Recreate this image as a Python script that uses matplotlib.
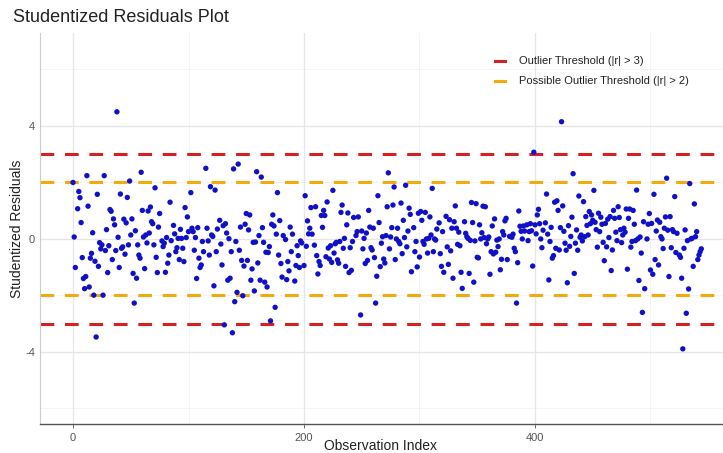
import matplotlib
matplotlib.use("Agg")
import matplotlib.pyplot as plt
from matplotlib.lines import Line2D

# ---- data ----
idx_a = [0,1,2,4,5,6,7,8,9,10,11,12,13,14,15,16,17,18,19,20,21,22,23,24,25,26,27,28,29,30,
         31,32,33,34,35,36,37,38,39,40,41,42,43,44,45,46,47,48,49,50,51,52,53,54]
res_a = [2.00,0.07,-1.01,1.07,1.68,1.46,0.58,-0.66,-1.40,-1.76,-1.33,2.24,1.16,-1.70,-0.68,-0.51,0.22,-1.99,-0.79,-3.47,
         1.58,-0.97,-0.13,-0.35,-0.21,-1.99,2.24,-0.41,0.33,-1.19,-0.24,1.04,0.98,-0.73,0.71,0.50,-0.41,4.50,0.06,-1.01,
         1.59,-0.33,-0.28,0.70,-0.54,0.57,1.47,-0.21,2.05,0.14,0.71,-1.22,-2.27,0.29]

idx_b = [55,56,57,58,59,60,61,62,63,64,65,66,67,68,69,70,71,72,73,74,75,77,78,79,80,81,82,83,84,85,
         87,88,89,90,91,92,93,94,95,96,97,98,99,100,102,103,104,105,106,107,108,109,110,111,112,113,115,116,117,118,119]
res_b = [-1.39,-0.21,-0.57,-0.68,2.36,1.01,0.07,-1.05,0.14,-0.14,0.99,0.21,1.13,0.61,0.54,-0.21,1.81,-0.65,-1.19,0.42,
         0.90,-0.07,-0.27,-0.15,-1.18,0.05,-0.86,-0.57,1.30,-0.06,0.48,0.18,-0.45,-0.31,0.02,-0.73,0.34,0.02,-0.33,-0.80,
         1.11,0.05,0.78,0.26,1.64,0.38,0.26,-0.40,0.05,-1.40,0.40,-0.68,-1.01,-0.92,-0.09,-0.45,2.50,0.38,-0.07,-0.57,1.85]

idx_c = [120,121,122,123,124,125,127,128,129,130,131,132,133,134,135,136,137,138,139,140,141,142,143,144,145,146,147,148,149,150,
         151,152,153,154,155,156,157,158,159,160,161,162,163,164,165,166,167,168,169,170,171,172,173,174,175,176,177,178,179,180,181,182]
res_c = [0.14,0.09,-1.66,1.73,-0.45,0.35,0.66,-0.18,-0.92,0.47,-3.04,0.54,0.21,-1.46,0.01,-1.39,-0.45,-3.32,2.48,-2.22,
         -0.09,-1.89,2.65,-0.40,0.42,-0.76,-2.01,-0.96,0.52,0.90,-0.76,0.32,0.85,-1.46,-1.06,-0.12,-1.84,-0.11,2.38,-0.85,
         0.12,-1.46,2.19,0.40,-0.12,-1.53,-0.47,-1.70,-0.48,-0.27,-2.90,0.52,0.85,0.46,-2.42,0.17,1.64,-0.57,0.65,-0.87,-1.35,0.12]

idx_d = [184,185,186,187,188,189,190,192,193,194,195,196,197,198,200,201,202,203,204,205,206,207,209,210,211,212,213,214,215,216,
         217,218,219,220,221,222,223,224,225,226,227,228,229,230,231,232,233,234,235,236,237,238,239,240,241,242,243,245,246,247,249]
res_d = [-0.02,-1.44,-0.80,-1.13,0.42,-0.45,0.17,-1.49,-0.94,-0.24,-0.59,-1.01,-0.07,-0.14,-0.94,1.53,-0.26,0.64,0.18,0.38,
         1.11,0.17,-0.22,1.14,-0.59,-1.24,-0.80,-0.94,0.83,0.41,1.01,0.83,-0.63,1.31,-0.32,-0.71,-0.24,-0.83,1.72,-0.50,
         -0.17,-0.12,-0.74,-0.86,-0.09,0.94,1.20,-0.33,0.02,-0.97,0.50,0.92,-1.19,-0.31,-1.11,-0.09,0.76,0.12,0.26,0.78,-2.69]

idx_e = [250,251,252,253,254,255,256,257,258,259,260,261,262,263,264,265,266,267,268,269,270,271,272,273,274,275,276,277,278,279,
         280,281,282,283,284,285,286,287,288,289,290,291,292,293,295,296,297,298,299,300,301,302,303,304,305,306,307,308,309,310,311,312,313]
res_e = [0.28,-0.35,0.02,-0.87,0.21,-0.76,1.01,0.42,-0.31,-0.39,0.38,-0.66,-2.27,-1.32,1.53,0.58,-0.98,-0.15,0.08,-0.71,
         -0.85,0.12,1.14,2.34,-0.35,0.07,0.40,1.20,1.84,-0.73,0.00,0.38,-0.09,-0.17,1.27,-0.52,0.66,0.05,1.90,-0.28,
         0.28,1.09,0.87,-1.16,0.40,-0.45,-0.09,-0.99,0.91,-0.64,0.97,0.66,-0.09,-0.19,0.94,0.00,-0.50,0.02,0.78,0.14,1.79,-0.45,0.00]

idx_f = [314,315,317,318,319,320,321,323,324,325,326,327,328,329,330,331,332,333,334,335,336,337,339,340,341,342,343,344,345,346,
         347,348,349,350,351,352,353,354,355,356,357,358,359,360,361,362,363,364,365,366,367,368,369,370,371,372,373,374,375,376,378]
res_f = [-0.04,0.35,0.57,-0.52,-0.97,0.26,-1.18,0.80,-0.28,-0.90,0.68,-0.42,0.38,-1.39,0.61,1.17,0.38,-0.19,0.24,-0.24,
         -1.18,-1.75,0.61,0.20,0.08,0.02,-1.22,-0.05,1.29,0.58,-1.53,-0.07,1.25,-0.65,-0.67,0.50,0.00,0.22,1.16,0.05,
         1.14,-0.17,0.00,0.07,-1.25,-0.45,0.46,-0.53,0.71,-0.47,-0.04,-0.27,0.00,-1.09,-0.72,0.26,0.14,0.64,0.73,-0.73,0.09]

idx_g = [380,381,382,383,384,385,386,387,388,389,390,391,393,394,395,396,397,398,399,400,401,402,403,404,405,406,407,409,410,411,
         412,413,414,415,416,417,418,419,420,421,422,423,424,425,426,427,428,429,430,431,432,433,434,435,436,437,438,439,440,441,442,443,444,445]
res_g = [0.06,0.17,-0.33,-0.45,-2.27,-0.84,0.99,0.45,0.27,0.00,0.46,0.28,0.50,-0.06,0.26,0.54,0.29,-0.96,3.07,0.50,
         0.18,0.85,1.05,0.54,0.00,-0.31,0.31,0.57,1.59,0.17,-1.45,-0.09,0.41,-0.68,-0.59,1.30,-0.33,1.35,1.01,-0.39,
         0.40,4.15,1.17,0.27,-0.15,-0.40,-1.55,0.47,-0.26,0.09,0.77,2.31,-1.22,-0.15,0.32,-0.40,1.52,0.06,0.14,-0.07,1.32,0.08,0.79,0.48]

idx_h = [446,447,448,449,450,451,452,453,454,455,456,457,458,459,460,461,462,463,464,465,466,467,468,469,470,471,472,473,474,475,
         476,477,478,479,480,481,482,483,484,485,486,487,488,489,490,491,492,493,494,495,497,498,499]
res_h = [0.14,0.97,0.54,0.85,0.66,1.72,0.59,0.33,-0.29,0.91,0.26,0.77,0.52,-0.12,-0.77,0.55,-0.28,0.70,0.05,0.79,
         -1.12,-0.39,1.01,0.73,0.24,-0.06,1.14,0.76,0.33,-0.13,0.14,0.38,0.24,1.06,-1.07,0.73,1.06,-0.29,-0.09,1.01,
         0.52,-0.06,1.73,0.00,-1.47,0.07,-0.50,-2.60,0.61,-1.76,0.00,0.52,0.90]

idx_i = [500,501,502,503,504,505,506,507,508,509,510,511,512,513,514,515,516,517,518,519,520,521,522,523,525,526,527,528,529,530,
         531,532,533,534,535,536,537,538,539,540,541,542,543,544]
res_i = [-1.10,0.55,-1.25,1.58,-0.73,0.28,0.67,-0.92,0.59,0.08,0.00,-0.34,0.38,0.78,2.15,0.31,-1.33,0.79,-0.31,0.33,
         0.26,1.50,-0.48,0.20,-0.57,-0.65,-1.39,-3.89,-0.33,0.32,-2.63,-0.06,-1.77,1.96,0.00,0.02,-0.97,1.24,0.08,0.26,
         -0.73,-0.57,-0.45,-0.35]

obs_index = idx_a + idx_b + idx_c + idx_d + idx_e + idx_f + idx_g + idx_h + idx_i
residuals = res_a + res_b + res_c + res_d + res_e + res_f + res_g + res_h + res_i

thresholds_outlier = [3, -3]
thresholds_possible = [2, -2]
legend_labels = ["Outlier Threshold (|r| > 3)", "Possible Outlier Threshold (|r| > 2)"]
x_ticks = [0, 200, 400]
y_ticks = [-4, 0, 4]

# ---- figure ----
plt.rcParams['font.family'] = ['Liberation Sans', 'DejaVu Sans']
plt.rcParams['axes.unicode_minus'] = False
fig = plt.figure(figsize=(7.23, 4.53), dpi=100)
ax = fig.add_axes([40/723, 1-424/453, 683/723, 391/453])

RED = "#D42222"
ORANGE = "#F2AA0C"
BLUE = "#1010C8"

ax.set_xlim(-28.6, 562.8)
ax.set_ylim(-6.55, 7.29)

for v in [100, 300, 500]:
    ax.axvline(v, color="#F2F2F2", lw=0.6, zorder=0)
for v in [-6, -2, 2, 6]:
    ax.axhline(v, color="#F2F2F2", lw=0.6, zorder=0)
for v in x_ticks:
    ax.axvline(v, color="#E6E6E6", lw=0.9, zorder=0)
for v in y_ticks:
    ax.axhline(v, color="#E6E6E6", lw=0.9, zorder=0)

ax.scatter(obs_index, residuals, s=15, color=BLUE, edgecolors="none", zorder=3)

for t in thresholds_outlier:
    ax.axhline(t, color=RED, lw=2.2, dashes=(4.5, 3.5), zorder=2)
for t in thresholds_possible:
    ax.axhline(t, color=ORANGE, lw=2.2, dashes=(4.5, 3.5), zorder=2)

ax.set_xticks(x_ticks)
ax.set_yticks(y_ticks)
ax.tick_params(axis='both', labelsize=8, colors="#555555", length=3, width=0.6)
ax.tick_params(axis='y', length=0)
for s in ['top', 'right']:
    ax.spines[s].set_visible(False)
ax.spines['left'].set_color("#CCCCCC")
ax.spines['left'].set_linewidth(0.8)
ax.spines['bottom'].set_color("#555555")
ax.spines['bottom'].set_linewidth(1.0)

fig.text(381/723, 1-446/453, "Observation Index", fontsize=10, color="#222222",
         ha="center", va="center")
fig.text(17/723, 1-229/453, "Studentized Residuals", fontsize=10, color="#222222",
         ha="center", va="center", rotation=90)
fig.text(13/723, 1-18/453, "Studentized Residuals Plot", fontsize=13, color="#222222",
         ha="left", va="center")

handles = [Line2D([0], [0], color=RED, lw=2.2),
           Line2D([0], [0], color=ORANGE, lw=2.2)]
leg = ax.legend(handles, legend_labels, loc="upper left",
                bbox_to_anchor=((491-40)/683, (424-52)/391),
                frameon=False, fontsize=8, handlelength=0.9, handletextpad=1.2,
                labelspacing=0.9, borderaxespad=0)
for t in leg.get_texts():
    t.set_color("#222222")

fig.savefig("out.png", dpi=100)
